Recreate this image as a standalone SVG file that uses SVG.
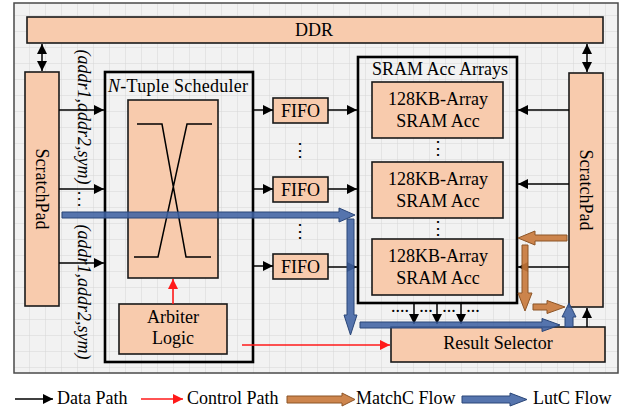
<svg xmlns="http://www.w3.org/2000/svg" width="630" height="410" viewBox="0 0 630 410" font-family="'Liberation Serif', 'DejaVu Serif', serif">
  <style>
    .box { fill: #f8cbad; stroke: #1a1a1a; stroke-width: 1.6; }
    .group { fill: none; stroke: #000; stroke-width: 2.6; }
    .t { font-family: 'Liberation Serif', 'DejaVu Serif', serif; font-size: 18px; fill: #000; }
    .c { text-anchor: middle; }
    .i { font-style: italic; }
    .data { stroke: #000; stroke-width: 1.5; fill: none; }
    .ctrl { stroke: #ff1a1a; stroke-width: 1.6; fill: none; }
    .lut { fill: #3f62a3; stroke: #2a4678; stroke-width: 1; fill-opacity: 0.88; }
    .match { fill: #c8783a; stroke: #8c5426; stroke-width: 1; fill-opacity: 0.9; }
  </style>
  <defs>
    <pattern id="grid" patternUnits="userSpaceOnUse" x="13" y="15" width="16" height="16">
      <rect width="16" height="16" fill="#f2f2f2"/>
      <path d="M16 0 L0 0 L0 16" fill="none" stroke="#d6d6d6" stroke-width="1"/>
    </pattern>
    <marker id="ah" markerUnits="userSpaceOnUse" markerWidth="11" markerHeight="10" refX="10" refY="5" orient="auto-start-reverse">
      <path d="M0,0 L10,5 L0,10 z" fill="#000"/>
    </marker>
    <marker id="ahr" markerUnits="userSpaceOnUse" markerWidth="11" markerHeight="10" refX="10" refY="5" orient="auto-start-reverse">
      <path d="M0,0 L10,5 L0,10 z" fill="#ff1a1a"/>
    </marker>
  </defs>

  <rect width="630" height="410" fill="#fff"/>
  <!-- background frame with grid -->
  <rect x="14" y="3" width="604" height="370" fill="url(#grid)" stroke="#4a4a4a" stroke-width="1.5"/>

  <!-- nodes -->
  <g id="ddr">
    <rect class="box" x="27" y="17" width="576" height="26"/>
    <text class="t c" x="314" y="36">DDR</text>
  </g>
  <g id="scratchpad-left">
    <rect class="box" x="25" y="72" width="34" height="234"/>
    <text class="t c" transform="translate(36 189) rotate(90)">ScratchPad</text>
  </g>
  <g id="scratchpad-right">
    <rect class="box" x="569" y="73" width="34" height="234"/>
    <text class="t c" transform="translate(580 190) rotate(90)">ScratchPad</text>
  </g>
  <g id="addr-labels">
    <text class="t c i" transform="translate(78 117) rotate(90)">(addr1,addr2,sym)</text>
    <text class="t c" transform="translate(78 199) rotate(90)">…</text>
    <text class="t c i" transform="translate(78 292) rotate(90)">(addr1,addr2,sym)</text>
  </g>
  <g id="scheduler">
    <rect class="group" x="105" y="72" width="148" height="290"/>
    <text class="t" x="108" y="92" textLength="140"><tspan class="i">N</tspan>-Tuple Scheduler</text>
  </g>
  <g id="crossbar">
    <rect class="box" x="128" y="100" width="90" height="178"/>
    <path d="M137 124 H162 L186 257 H211 M212 124 H187 L158 257 H134" fill="none" stroke="#000" stroke-width="1.5"/>
  </g>
  <g id="arbiter">
    <rect class="box" x="119" y="304" width="108" height="50"/>
    <text class="t c" x="173" y="323">Arbiter</text>
    <text class="t c" x="173" y="344">Logic</text>
  </g>
  <g id="fifo-1">
    <rect class="box" x="273" y="98" width="55" height="25"/>
    <text class="t c" x="300.5" y="117">FIFO</text>
  </g>
  <g id="fifo-2">
    <rect class="box" x="273" y="177" width="55" height="25"/>
    <text class="t c" x="300.5" y="196">FIFO</text>
  </g>
  <g id="fifo-3">
    <rect class="box" x="273" y="254" width="55" height="25"/>
    <text class="t c" x="300.5" y="273">FIFO</text>
  </g>
  <g id="fifo-dots">
    <text class="t c" x="300" y="156">⋮</text>
    <text class="t c" x="300" y="237">⋮</text>
  </g>
  <g id="sram-arrays">
    <rect class="group" x="358" y="57" width="159" height="246"/>
    <text class="t c" x="440" y="75">SRAM Acc Arrays</text>
  </g>
  <g id="sram-acc-1">
    <rect class="box" x="372" y="82" width="131" height="56"/>
    <text class="t c" x="438" y="105">128KB-Array</text>
    <text class="t c" x="438" y="127">SRAM Acc</text>
  </g>
  <g id="sram-acc-2">
    <rect class="box" x="372" y="162" width="131" height="56"/>
    <text class="t c" x="438" y="185">128KB-Array</text>
    <text class="t c" x="438" y="207">SRAM Acc</text>
  </g>
  <g id="sram-acc-3">
    <rect class="box" x="372" y="239" width="131" height="56"/>
    <text class="t c" x="438" y="262">128KB-Array</text>
    <text class="t c" x="438" y="284">SRAM Acc</text>
  </g>
  <g id="sram-dots">
    <text class="t c" x="438" y="154">⋮</text>
    <text class="t c" x="438" y="234">⋮</text>
    <text class="t c" x="400" y="312">....</text>
    <text class="t c" x="426" y="312">...</text>
    <text class="t c" x="449" y="312">...</text>
    <text class="t c" x="473" y="312">...</text>
  </g>
  <g id="result-selector">
    <rect class="box" x="391" y="327" width="214" height="35"/>
    <text class="t c" x="498" y="349">Result Selector</text>
  </g>

  <!-- connectors -->
  <g id="connectors">
    <!-- DDR <-> scratchpads -->
    <line class="data" x1="42" y1="44" x2="42" y2="71" marker-start="url(#ah)" marker-end="url(#ah)"/>
    <line class="data" x1="587" y1="44" x2="587" y2="72" marker-start="url(#ah)" marker-end="url(#ah)"/>
    <!-- scratchpad -> scheduler -->
    <line class="data" x1="59" y1="110" x2="104" y2="110" marker-end="url(#ah)"/>
    <line class="data" x1="59" y1="189" x2="104" y2="189" marker-end="url(#ah)"/>
    <line class="data" x1="59" y1="263" x2="104" y2="263" marker-end="url(#ah)"/>
    <!-- scheduler -> FIFOs -->
    <line class="data" x1="254" y1="110" x2="273" y2="110" marker-end="url(#ah)"/>
    <line class="data" x1="254" y1="189" x2="273" y2="189" marker-end="url(#ah)"/>
    <line class="data" x1="254" y1="266" x2="273" y2="266" marker-end="url(#ah)"/>
    <!-- FIFOs -> SRAM arrays -->
    <line class="data" x1="328" y1="110" x2="357" y2="110" marker-end="url(#ah)"/>
    <line class="data" x1="328" y1="189" x2="357" y2="189" marker-end="url(#ah)"/>
    <line class="data" x1="328" y1="267" x2="357" y2="267" marker-end="url(#ah)"/>
    <!-- right scratchpad -> SRAM arrays -->
    <line class="data" x1="569" y1="110" x2="518" y2="110" marker-end="url(#ah)"/>
    <line class="data" x1="569" y1="184" x2="518" y2="184" marker-end="url(#ah)"/>
    <line class="data" x1="569" y1="267" x2="518" y2="267" marker-end="url(#ah)"/>
    <!-- SRAM arrays -> result selector -->
    <line class="data" x1="414" y1="304" x2="414" y2="324" marker-end="url(#ah)"/>
    <line class="data" x1="437" y1="304" x2="437" y2="324" marker-end="url(#ah)"/>
    <line class="data" x1="461" y1="304" x2="461" y2="324" marker-end="url(#ah)"/>
    <!-- result selector -> right scratchpad -->
    <line class="data" x1="587" y1="327" x2="587" y2="308" marker-end="url(#ah)"/>
    <!-- control paths -->
    <line class="ctrl" x1="173" y1="304" x2="173" y2="279" marker-end="url(#ahr)"/>
    <line class="ctrl" x1="242" y1="345" x2="390" y2="345" marker-end="url(#ahr)"/>
    <!-- MatchC flow -->
    <polygon class="match" points="567,235 535,235 535,231 518,238 535,245 535,241 567,241"/>
    <polygon class="match" points="522,245 522,293 518,293 525,311 532,293 528,293 528,245"/>
    <polygon class="match" points="533,304 547,304 547,300.5 565,307 547,313.5 547,310 533,310"/>
    <!-- LutC flow -->
    <polygon class="lut" points="62,212 339,212 339,208 355,215 339,222 339,218 62,218"/>
    <polygon class="lut" points="347,219 347,315 344,315 350.5,335 357,315 354,315 354,219"/>
    <polygon class="lut" points="360,322 542,322 542,318.5 560,325 542,331.5 542,328 360,328"/>
    <polygon class="lut" points="565,327 565,317 562,317 569,303 576,317 573,317 573,327"/>
  </g>

  <!-- legend -->
  <g id="legend">
    <line class="data" x1="15" y1="399" x2="53" y2="399" marker-end="url(#ah)"/>
    <text class="t" x="57" y="404">Data Path</text>
    <line class="ctrl" x1="141" y1="399" x2="183" y2="399" marker-end="url(#ahr)"/>
    <text class="t" x="187" y="404">Control Path</text>
    <polygon class="match" points="287,396 342,396 342,393 355,399.5 342,406 342,403 287,403"/>
    <text class="t" x="356" y="404">MatchC Flow</text>
    <polygon class="lut" points="462,396 510,396 510,393 527,399.5 510,406 510,403 462,403"/>
    <text class="t" x="533" y="404">LutC Flow</text>
  </g>
</svg>
